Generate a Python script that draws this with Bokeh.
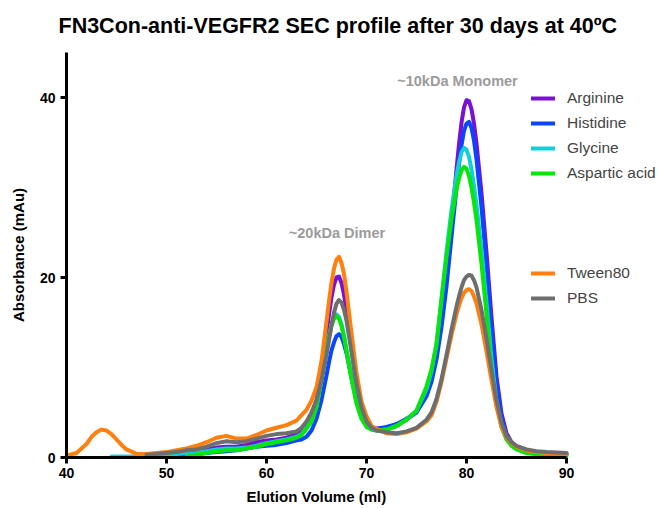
from bokeh.plotting import figure
from bokeh.models import Range1d, Legend, LegendItem, Label, FixedTicker, Title
from bokeh.embed import file_html
from bokeh.resources import INLINE

N = float("nan")

title_text = "FN3Con-anti-VEGFR2 SEC profile after 30 days at 40ºC"
x_label = "Elution Volume (ml)"
y_label = "Absorbance (mAu)"
x_ticks = [40, 50, 60, 70, 80, 90]
y_ticks = [0, 20, 40]
peak_labels = ["~20kDa Dimer", "~10kDa Monomer"]
peak_label_x = [67.05, 79.1]
peak_label_y = [24.9, 41.8]

elution = [40, 41, 42, 42.5, 43, 43.5, 44, 44.5, 45, 45.5, 46,
           47, 48, 49, 50, 51, 52, 53, 54, 55, 56, 57, 58, 59, 60, 61, 62,
           63, 63.5, 64, 64.5, 65, 65.5, 66,
           66.25, 66.5, 66.75, 67, 67.25, 67.5, 67.75, 68,
           68.5, 69, 69.5, 70, 70.5, 71,
           72, 73, 74, 75, 76,
           76.5, 77, 77.5, 78, 78.5, 79,
           79.25, 79.5, 79.75, 80, 80.25, 80.5, 80.75, 81,
           81.5, 82, 82.5, 83, 83.5, 84, 84.5, 85,
           86, 87, 88, 89, 90]

arginine = [N]*11 + [N, 0.1, 0.2, 0.3, 0.4, 0.5, 0.7, 0.9, 1.1, 1.2, 1.2, 1.4, 1.7, 1.9, 2.0, 2.2,
            2.6, 3.1, 3.8, 4.8, 6.3, 9.6, 13.8,
            15.9, 17.8, 19.2, 20.0, 20.1, 19.4, 18.1, 16.3,
            12.1, 8.2, 5.5, 4.0, 3.4, 3.2,
            3.3, 3.7, 4.2, 5.1, 7.0,
            8.7, 11.3, 15.1, 20.0, 26.0, 32.0,
            34.8, 37.2, 38.9, 39.7, 39.6, 38.7, 37.1, 34.9,
            29.4, 22.8, 15.6, 9.0, 4.9, 2.7, 1.7, 1.2,
            0.7, 0.5, 0.45, 0.4, 0.4]

histidine = [N]*11 + [N, 0.0, 0.05, 0.1, 0.2, 0.3, 0.4, 0.5, 0.6, 0.7, 0.8, 1.0, 1.2, 1.3, 1.4, 1.6,
             1.9, 2.0, 2.3, 3.0, 4.3, 6.4, 9.1,
             10.6, 11.9, 12.8, 13.5, 13.7, 13.4, 12.6, 11.6,
             8.9, 6.4, 4.7, 3.7, 3.3, 3.2,
             3.4, 3.7, 4.3, 5.0, 6.8,
             8.4, 10.9, 14.5, 19.0, 24.5, 30.0,
             32.6, 34.7, 36.3, 37.1, 37.3, 36.6, 35.2, 33.1,
             27.8, 21.4, 14.5, 8.3, 4.5, 2.5, 1.6, 1.1,
             0.7, 0.5, 0.45, 0.4, 0.4]

glycine = [N, N, N, N, N, N, N, 0.1, 0.1, 0.1, 0.1,
           0.1, 0.15, 0.2, 0.3, 0.4, 0.5, 0.6, 0.7, 0.9, 1.0, 1.0, 1.1, 1.3, 1.6, 1.8, 2.0,
           2.3, 2.6, 3.3, 4.1, 5.7, 8.7, 11.9,
           13.5, 14.8, 15.6, 15.9, 15.6, 14.8, 13.6, 12.0,
           8.9, 6.1, 4.4, 3.5, 3.1, 3.0,
           3.1, 3.5, 4.2, 5.2, 7.6,
           9.6, 12.6, 17.6, 22.8, 27.5, 31.3,
           32.8, 33.9, 34.4, 34.2, 33.4, 32.0, 30.2, 28.1,
           23.0, 17.2, 11.0, 6.3, 3.5, 2.1, 1.4, 1.0,
           0.6, 0.45, 0.4, 0.35, 0.3]

aspartic = [N]*11 + [N, N, N, N, N, 0.1, 0.3, 0.5, 0.7, 0.8, 0.8, 1.0, 1.2, 1.5, 1.7, 1.9,
            2.2, 2.5, 3.2, 4.0, 5.6, 8.6, 11.8,
            13.4, 14.6, 15.4, 15.7, 15.4, 14.6, 13.4, 11.8,
            8.7, 6.0, 4.3, 3.4, 3.1, 3.0,
            3.1, 3.5, 4.2, 5.2, 7.9,
            9.8, 12.6, 17.6, 22.3, 26.5, 29.8,
            31.0, 31.9, 32.3, 32.1, 31.3, 30.0, 28.3, 26.4,
            21.5, 16.0, 9.8, 6.0, 3.4, 2.0, 1.3, 0.9,
            0.5, 0.35, 0.3, 0.25, 0.2]

tween80 = [0.2, 0.5, 1.5, 2.3, 2.8, 3.1, 3.0, 2.6, 2.0, 1.4, 0.9,
           0.4, 0.4, 0.5, 0.6, 0.8, 1.0, 1.3, 1.7, 2.2, 2.4, 2.1, 2.1, 2.5, 3.0, 3.3, 3.6,
           4.1, 4.7, 5.3, 6.3, 7.8, 10.7, 15.1,
           17.4, 19.4, 21.0, 22.0, 22.3, 21.6, 20.4, 18.4,
           13.8, 9.4, 6.2, 4.6, 3.5, 3.2,
           2.7, 2.6, 2.8, 3.2, 4.0,
           4.7, 6.2, 8.4, 11.0, 13.6, 15.9,
           16.9, 17.7, 18.3, 18.6, 18.7, 18.5, 17.9, 17.1,
           14.8, 11.8, 8.6, 5.6, 3.4, 2.2, 1.6, 1.2,
           0.8, 0.6, 0.5, 0.45, 0.4]

pbs = [N]*11 + [N, 0.3, 0.4, 0.5, 0.6, 0.8, 0.9, 1.2, 1.6, 1.8, 1.7, 1.8, 2.1, 2.4, 2.6, 2.7,
       2.9, 3.3, 4.0, 5.0, 6.4, 8.6, 11.4,
       13.0, 14.7, 16.1, 17.1, 17.5, 17.2, 16.4, 15.2,
       11.7, 8.2, 5.6, 4.0, 3.3, 3.0,
       2.8, 2.7, 2.9, 3.3, 4.2,
       5.0, 6.5, 8.7, 11.4, 14.2, 16.8,
       17.9, 18.9, 19.7, 20.1, 20.3, 20.2, 19.7, 18.9,
       16.4, 13.2, 9.7, 6.4, 3.9, 2.4, 1.7, 1.3,
       0.9, 0.7, 0.6, 0.55, 0.5]

series_names = ["Arginine", "Histidine", "Glycine", "Aspartic acid", "Tween80", "PBS"]
series_values = [arginine, histidine, glycine, aspartic, tween80, pbs]
series_colors = ["#7a0fd6", "#0a45ff", "#10cfd8", "#06e60a", "#ff7f0f", "#6e6e6e"]

FONT = "Liberation Sans"

FRAME_W = 592
p = figure(frame_width=FRAME_W, frame_height=405,
           x_range=Range1d(40, 40 + FRAME_W / 10.0), y_range=Range1d(0, 45),
           output_backend="svg", toolbar_location=None,
           min_border_left=66, min_border_right=0, min_border_top=52, min_border_bottom=44,
           title=title_text)
p.outline_line_color = None
p.xgrid.visible = False
p.ygrid.visible = False

p.title.text_font = FONT
p.title.text_font_size = "21.5px"
p.title.text_font_style = "bold"
p.title.text_color = "black"
p.title.align = "left"
p.title.offset = -8
p.title.standoff = 25
p.title.vertical_align = "top"

for ax, ticks in ((p.xaxis[0], x_ticks), (p.yaxis[0], y_ticks)):
    ax.ticker = FixedTicker(ticks=ticks, minor_ticks=[])
    ax.axis_line_width = 3
    ax.major_tick_line_width = 3
    ax.major_tick_out = 6
    ax.major_tick_in = 0
    ax.minor_tick_line_color = None
    ax.major_label_text_font = FONT
    ax.major_label_text_font_size = "14px"
    ax.major_label_text_font_style = "bold"
    ax.major_label_text_color = "black"
    ax.axis_label_text_font = FONT
    ax.axis_label_text_font_size = "15px"
    ax.axis_label_text_font_style = "bold"
    ax.axis_label_text_color = "black"

p.xaxis[0].bounds = (40, 90)
p.yaxis[0].axis_label = y_label
p.xaxis[0].major_label_standoff = 4
p.yaxis[0].major_label_standoff = 5
p.yaxis[0].axis_label_standoff = 10

xt = Title(text=x_label, align="left", offset=180, standoff=10,
           text_font=FONT, text_font_size="15px", text_font_style="bold", text_color="black")
p.add_layout(xt, "below")

renderers = []
for name, vals, col in zip(series_names, series_values, series_colors):
    r = p.line(elution, vals, line_color=col, line_width=4, line_join="round", line_cap="round")
    renderers.append(r)

leg_common = dict(padding=0, margin=0, border_line_alpha=0, background_fill_alpha=0,
                  label_text_font=FONT, label_text_font_size="15.5px",
                  glyph_width=24, glyph_height=20, label_height=20, spacing=5,
                  label_standoff=12)
leg1 = Legend(items=[LegendItem(label=series_names[i], renderers=[renderers[i]]) for i in range(4)],
              location=(465, 274), **leg_common)
leg2 = Legend(items=[LegendItem(label=series_names[i], renderers=[renderers[i]]) for i in range(4, 6)],
              location=(465, 149), **leg_common)
p.add_layout(leg1)
p.add_layout(leg2)

for t, lx, ly in zip(peak_labels, peak_label_x, peak_label_y):
    p.add_layout(Label(x=lx, y=ly, text=t, text_align="center", text_baseline="middle",
                       text_color="#9b9b9b", text_font=FONT, text_font_style="bold",
                       text_font_size="14.5px"))

open("out.html", "w").write(file_html(p, INLINE))
